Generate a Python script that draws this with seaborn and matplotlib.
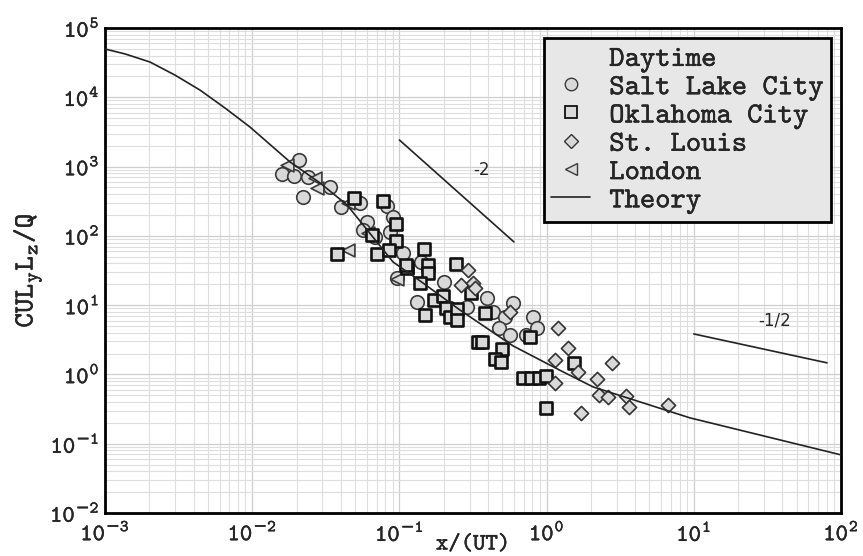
import numpy as np
import pandas as pd
import matplotlib
matplotlib.use("Agg")
import matplotlib.pyplot as plt
import matplotlib.patheffects as pe
from matplotlib.lines import Line2D
from matplotlib.ticker import LogLocator, FuncFormatter, NullFormatter
import seaborn as sns

# ---------------- data ----------------
slc_x = [0.0208, 0.0160, 0.0192, 0.0239, 0.0338, 0.0221, 0.0401, 0.0540, 0.0603, 0.0566,
         0.0682, 0.0824, 0.0905, 0.0863, 0.106, 0.140, 0.0964, 0.132, 0.201, 0.288,
         0.394, 0.433, 0.592, 0.521, 0.475, 0.564, 0.808, 0.724, 0.861]
slc_y = [1245, 782, 731, 708, 508, 364, 261, 298, 159, 122,
         96, 270, 187, 114, 56.6, 42.0, 24.7, 11.1, 21.6, 9.42,
         12.7, 7.98, 10.8, 6.76, 4.69, 3.72, 6.76, 3.72, 4.69]

okc_x = [0.0492, 0.0774, 0.0948, 0.0948, 0.0652, 0.0377, 0.0705, 0.0849, 0.113, 0.147,
         0.156, 0.156, 0.138, 0.111, 0.242, 0.172, 0.198, 0.207, 0.149, 0.221,
         0.246, 0.246, 0.306, 0.381, 0.342, 0.498, 0.771, 0.364, 0.446, 0.490,
         0.692, 0.783, 0.887, 0.99, 1.53, 0.99]
okc_y = [352, 319, 149, 84, 103, 54.8, 54.8, 62.6, 34.4, 64.7,
         38.0, 29.2, 20.9, 38.0, 39.3, 11.9, 13.6, 9.12, 7.22, 6.76,
         8.81, 6.12, 15.0, 7.71, 2.94, 2.33, 3.48, 2.94, 1.67, 1.51,
         0.89, 0.89, 0.89, 0.95, 1.47, 0.329]

stl_x = [0.292, 0.262, 0.316, 0.326, 0.564, 1.20, 1.40, 1.14, 1.63, 1.14,
         2.78, 2.20, 2.27, 2.61, 3.46, 3.63, 1.71, 6.68]
stl_y = [32.2, 19.6, 20.9, 17.7, 7.98, 4.69, 2.41, 1.62, 1.09, 0.754,
         1.47, 0.86, 0.506, 0.473, 0.489, 0.340, 0.278, 0.363]

lon_x = [0.0172, 0.0267, 0.0275, 0.0448, 0.0612, 0.0448, 0.0837, 0.0964, 0.113]
lon_y = [1054, 685, 491, 298, 110, 62.6, 62.6, 23.9, 35.6]

theory_x = [0.001, 0.00137, 0.00202, 0.00299, 0.00442, 0.00653, 0.00966, 0.0181, 0.0289,
            0.0441, 0.0905, 0.1445, 0.258, 0.592, 1.23, 2.07, 9.42, 100]
theory_y = [49800, 42200, 32300, 20900, 12700, 7010, 3720, 1164, 580,
            279, 42.0, 20.9, 8.5, 2.58, 1.15, 0.66, 0.236, 0.069]

slope2_x = [0.1, 0.6]
slope2_y = [2420, 81.7]
slope_half_x = [10, 80.3]
slope_half_y = [3.84, 1.47]

series_names = ["Salt Lake City", "Oklahoma City", "St. Louis", "London"]
legend_title = "Daytime"
theory_name = "Theory"
x_ticks = [1e-3, 1e-2, 1e-1, 1e0, 1e1, 1e2]
y_ticks = [1e-2, 1e-1, 1e0, 1e1, 1e2, 1e3, 1e4, 1e5]

# ---------------- style ----------------
sns.set_style("white")
plt.rcParams['font.family'] = ['cmtt10', 'Liberation Mono', 'DejaVu Sans']
plt.rcParams['axes.unicode_minus'] = False
plt.rcParams['mathtext.fontset'] = 'custom'
plt.rcParams['mathtext.rm'] = 'cmtt10'
plt.rcParams['mathtext.it'] = 'cmtt10'
plt.rcParams['mathtext.bf'] = 'cmtt10'
plt.rcParams['mathtext.sf'] = 'DejaVu Sans'

heavy = [pe.withStroke(linewidth=0.25, foreground='black')]


def pow_fmt(v, pos):
    e = int(round(np.log10(v)))
    s = str(e).replace('-', r'\mathsf{-}')
    return r"$\mathregular{10}^{" + s + "}$"


fig = plt.figure(figsize=(8.63, 5.56), dpi=100)
ax = fig.add_axes([105 / 863, 1 - 513 / 556, 736 / 863, 485 / 556])
ax.set_xscale('log')
ax.set_yscale('log')
ax.set_xlim(1e-3, 1e2)
ax.set_ylim(1e-2, 1e5)

face = '#d9d9d9'

sns.scatterplot(x=slc_x, y=slc_y, marker='o', s=95, color=face,
                edgecolor='#3a3a3a', linewidth=1.2, ax=ax, zorder=3)
sns.scatterplot(x=lon_x, y=lon_y, marker='<', s=85, color=face,
                edgecolor='#3a3a3a', linewidth=1.2, ax=ax, zorder=4)
sns.scatterplot(x=okc_x, y=okc_y, marker='s', s=78, color=face,
                edgecolor='#111111', linewidth=1.9, ax=ax, zorder=5)
sns.scatterplot(x=stl_x, y=stl_y, marker='D', s=52, color=face,
                edgecolor='#333333', linewidth=1.2, ax=ax, zorder=5)

sns.lineplot(x=theory_x, y=theory_y, color='#222222', linewidth=1.2, ax=ax,
             zorder=6, legend=False)
sns.lineplot(x=slope2_x, y=slope2_y, color='#222222', linewidth=1.2, ax=ax,
             zorder=6, legend=False)
sns.lineplot(x=slope_half_x, y=slope_half_y, color='#222222', linewidth=1.2, ax=ax,
             zorder=6, legend=False)

ax.text(0.36, 893, "-2", fontsize=12, family='DejaVu Sans', ha='center', va='center')
ax.text(35.5, 6.1, "-1/2", fontsize=12, family='DejaVu Sans', ha='center', va='center')

# ticks & grid
ax.xaxis.set_minor_locator(LogLocator(base=10, subs=np.arange(2, 10), numticks=20))
ax.yaxis.set_minor_locator(LogLocator(base=10, subs=np.arange(2, 10), numticks=20))
ax.xaxis.set_minor_formatter(NullFormatter())
ax.yaxis.set_minor_formatter(NullFormatter())
ax.set_xticks(x_ticks)
ax.set_yticks(y_ticks)
ax.xaxis.set_major_formatter(FuncFormatter(pow_fmt))
ax.yaxis.set_major_formatter(FuncFormatter(pow_fmt))
ax.tick_params(axis='both', which='both', length=0, labelsize=17)
ax.tick_params(axis='x', pad=7)
ax.tick_params(axis='y', pad=4)
ax.grid(True, which='major', color='#cfcfcf', linewidth=0.9)
ax.grid(True, which='minor', color='#dedede', linewidth=0.8)
ax.set_axisbelow(True)
for sp in ax.spines.values():
    sp.set_color('black')
    sp.set_linewidth(2.0)

ax.set_xlabel("x/(UT)", fontsize=17, va='center')
ax.xaxis.set_label_coords(0.5, -0.066)
ax.set_ylabel(r"CUL$_\mathregular{y}$L$_\mathregular{z}$/Q", fontsize=20, labelpad=4)

# legend
handles = [
    Line2D([], [], linestyle='none', label=legend_title),
    Line2D([], [], linestyle='none', marker='o', markersize=9, markerfacecolor=face,
           markeredgecolor='#3a3a3a', markeredgewidth=1.0, label=series_names[0]),
    Line2D([], [], linestyle='none', marker='s', markersize=8, markerfacecolor=face,
           markeredgecolor='#111111', markeredgewidth=1.3, label=series_names[1]),
    Line2D([], [], linestyle='none', marker='D', markersize=7, markerfacecolor=face,
           markeredgecolor='#333333', markeredgewidth=1.0, label=series_names[2]),
    Line2D([], [], linestyle='none', marker='<', markersize=9, markerfacecolor=face,
           markeredgecolor='#3a3a3a', markeredgewidth=1.0, label=series_names[3]),
    Line2D([], [], color='#222222', linewidth=1.2, label=theory_name),
]
leg = ax.legend(handles=handles, loc='upper right', bbox_to_anchor=(0.986, 0.979),
                borderaxespad=0, fontsize=21, labelspacing=0.03, handlelength=1.35,
                handletextpad=0.65, borderpad=0.25, frameon=True, fancybox=False)
fr = leg.get_frame()
fr.set_facecolor('#e7e7e7')
fr.set_edgecolor('black')
fr.set_linewidth(2.0)
fr.set_alpha(1)
leg.set_zorder(10)

for t in leg.get_texts():
    t.set_path_effects(heavy)
for t in ax.get_xticklabels() + ax.get_yticklabels():
    t.set_path_effects(heavy)
for t in ax.get_yticklabels():
    t.set_verticalalignment('center_baseline')
ax.xaxis.label.set_path_effects(heavy)
ax.yaxis.label.set_path_effects(heavy)

fig.savefig("out.png", dpi=100)
